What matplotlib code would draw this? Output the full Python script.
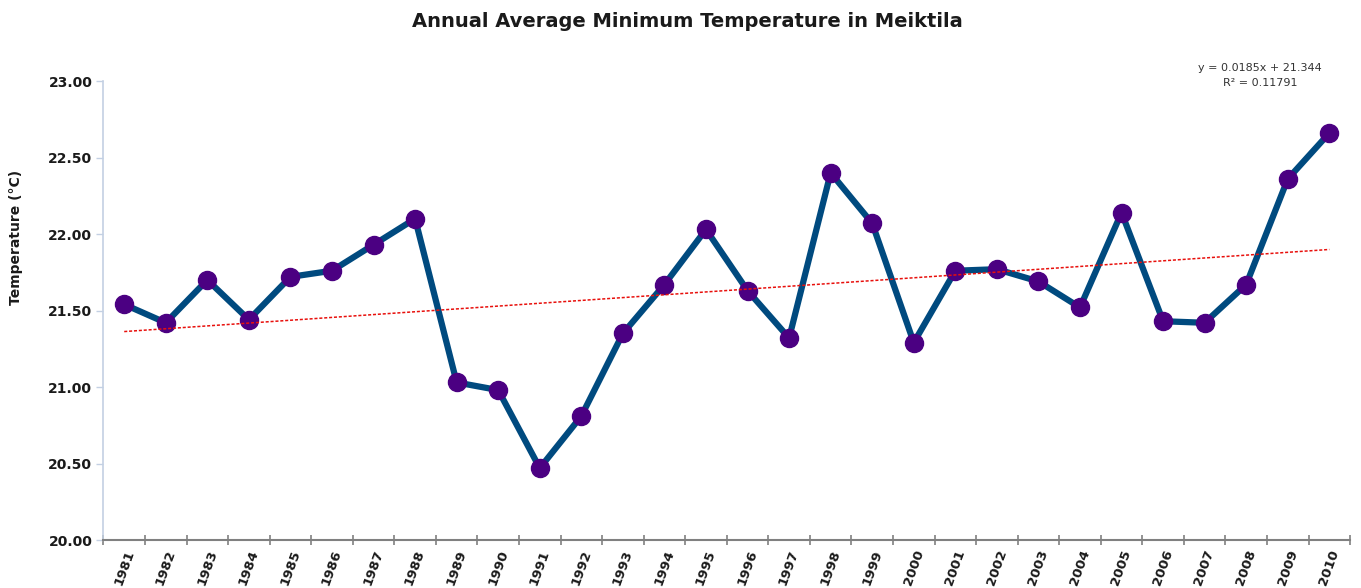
"""
Annual average minimum temperature in Meiktila, 1981-2010, with linear trend.
"""
import matplotlib
matplotlib.use("Agg")
import matplotlib.pyplot as plt
import numpy as np

YEARS = [str(y) for y in range(1981, 2011)]
TMIN = [21.54, 21.42, 21.70, 21.44, 21.72, 21.76, 21.93, 22.10, 21.03, 20.98,
        20.47, 20.81, 21.35, 21.67, 22.03, 21.63, 21.32, 22.40, 22.07, 21.29,
        21.76, 21.77, 21.69, 21.52, 22.14, 21.43, 21.42, 21.67, 22.36, 22.66]

# tendencia lineal tal como aparece en la etiqueta del grafico
TREND_SLOPE = 0.0185
TREND_INTERCEPT = 21.344
TREND_R2 = 0.11791

LINE_COLOR = "#004a7f"
MARKER_COLOR = "#4b0082"
TREND_COLOR = "#e8100c"


def graficar():
    fig = plt.figure(figsize=(13.61, 5.88), dpi=100)
    ax = fig.add_axes([0.076, 0.0816, 0.916, 0.7806])

    x = np.arange(len(YEARS))
    ax.plot(x, TMIN, color=LINE_COLOR, linewidth=4.5, zorder=3,
            marker="o", markersize=13, markerfacecolor=MARKER_COLOR,
            markeredgecolor=MARKER_COLOR)

    trend = TREND_SLOPE * (x + 1) + TREND_INTERCEPT
    ax.plot(x, trend, color=TREND_COLOR, linewidth=1.1,
            linestyle=(0, (2, 1.2)), zorder=4)

    ax.set_xlim(-0.5, len(YEARS) - 0.5)
    ax.set_ylim(20.0, 23.0)
    ax.set_yticks(np.arange(20.0, 23.01, 0.5))
    ax.set_yticklabels([f"{v:.2f}" for v in np.arange(20.0, 23.01, 0.5)],
                       fontsize=10, fontweight="bold", color="#1a1a1a")

    ax.set_xticks(x)
    ax.set_xticklabels(YEARS, rotation=70, ha="right", rotation_mode="anchor",
                       fontsize=9.5, fontweight="bold", color="#1a1a1a")
    ax.tick_params(axis="x", which="major", length=0, pad=6)
    ax.set_xticks(np.arange(-0.5, len(YEARS)), minor=True)
    ax.tick_params(axis="x", which="minor", length=7, direction="inout",
                   color="#808080", width=1.2)
    ax.tick_params(axis="y", length=5, color="#c3d0e3", width=1.0, pad=3)

    for side in ("top", "right"):
        ax.spines[side].set_visible(False)
    ax.spines["left"].set_color("#c3d0e3")
    ax.spines["left"].set_linewidth(1.2)
    ax.spines["bottom"].set_color("#808080")
    ax.spines["bottom"].set_linewidth(1.5)

    fig.text(0.505, 0.963, "Annual Average Minimum Temperature in Meiktila",
             ha="center", va="center", fontsize=14, fontweight="bold",
             color="#1a1a1a")
    fig.text(0.012, 0.597, "Temperature (°C)", rotation=90, ha="center",
             va="center", fontsize=10, fontweight="bold", color="#1a1a1a")

    fig.text(0.926, 0.885, f"y = {TREND_SLOPE}x + {TREND_INTERCEPT}",
             ha="center", va="center", fontsize=8, color="#333333")
    fig.text(0.926, 0.859, f"R² = {TREND_R2}",
             ha="center", va="center", fontsize=8, color="#333333")

    fig.savefig("out.png", dpi=100)
    plt.close(fig)


if __name__ == "__main__":
    graficar()
